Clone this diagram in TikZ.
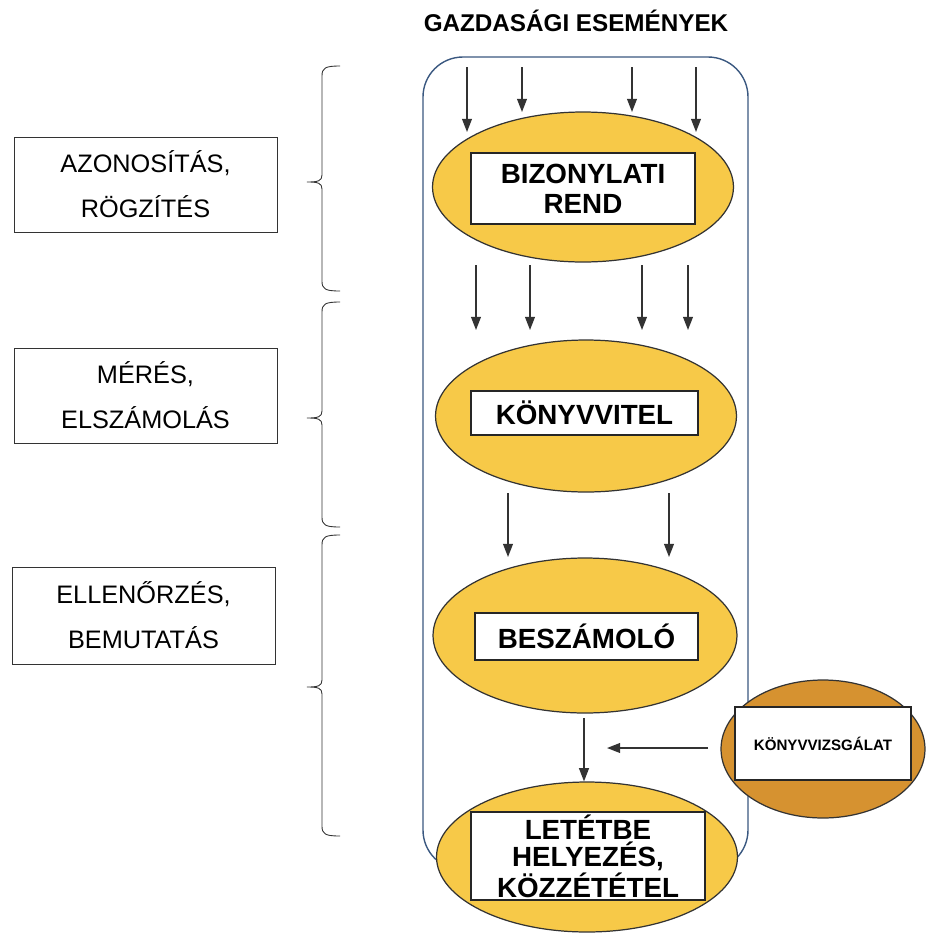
\documentclass[tikz,border=0pt]{standalone}
\usepackage{fontspec}
\setmainfont{Liberation Sans}
\usetikzlibrary{positioning, arrows.meta, shapes.geometric}
\definecolor{ellyellow}{RGB}{247,201,72}
\definecolor{ellbrown}{RGB}{214,146,48}
\definecolor{framecol}{RGB}{58,88,128}
\tikzstyle{ell}=[draw=black!80, fill=ellyellow, ellipse, inner sep=0pt, line width=0.7pt]
\tikzstyle{lab}=[draw=black!85, fill=white, inner sep=0pt, line width=0.6pt, align=center, font=\bfseries\fontsize{15.8}{17}\selectfont]
\tikzstyle{side}=[draw=black!80, inner sep=0pt, line width=0.5pt, align=center, minimum width=5.26cm, minimum height=1.9cm, font=\fontsize{14.4}{25.5}\selectfont]
\tikzstyle{brc}=[line width=0.5pt, black!80]

\begin{document}
\begin{tikzpicture}[x=0.02cm, y=-0.02cm, > = {Triangle[length=7.5pt,width=5.6pt]}, every path/.style={line width=0.85pt}]
  \useasboundingbox (0,0) rectangle (926,934);
  \node (title) at (576,21) {\bfseries\fontsize{13.8}{15}\selectfont GAZDASÁGI ESEMÉNYEK};
  % the frame round the process
  \draw[framecol, line width=0.8pt, rounded corners=0.8cm] (423,57) rectangle (748,870);

  \node [ell, minimum width=6.02cm, minimum height=3cm] (bizell) at (583,187) {};
  \node [ell, minimum width=6.02cm, minimum height=3.04cm] (konell) at (586,416) {};
  \node [ell, minimum width=6.08cm, minimum height=3.1cm] (beszell) at (585,635.5) {};
  \node [ell, minimum width=6.02cm, minimum height=3cm] (letell) at (587,857) {};
  \node [ell, fill=ellbrown, minimum width=4.08cm, minimum height=2.76cm] (vizsell) at (823,749) {};

  \node [lab, minimum width=4.48cm, minimum height=1.42cm] (biz) at (583,188.5) {BIZONYLATI\\REND};
  \node [lab, minimum width=4.54cm, minimum height=0.88cm] (kon) at (584.5,413) {KÖNYVVITEL};
  \node [lab, minimum width=4.46cm, minimum height=0.94cm] (besz) at (586.5,636.5) {BESZÁMOLÓ};
  \node [lab, minimum width=4.68cm, minimum height=1.76cm, font=\bfseries\fontsize{15.8}{15.5}\selectfont] (let) at (588,856) {LETÉTBE\\HELYEZÉS,\\KÖZZÉTÉTEL};
  \node [lab, minimum width=3.52cm, minimum height=1.46cm, font=\bfseries\fontsize{8.6}{10}\selectfont] (vizs) at (823,743.5) {KÖNYVVIZSGÁLAT};

  % side labels and braces
  \node [side] (azon) at (145.5,184.5) {AZONOSÍTÁS,\\RÖGZÍTÉS};
  \node [side] (meres) at (145.5,395.5) {MÉRÉS,\\ELSZÁMOLÁS};
  \node [side, minimum height=1.94cm] (ellen) at (143.5,615.5) {ELLENŐRZÉS,\\BEMUTATÁS};
  \foreach \t/\m/\b [count=\i] in {66/182/291, 302/418/527, 535/687/836} {
    \coordinate (tip\i) at (307,\m);
    \draw[brc] (340,\t) .. controls (325,\t) and (322,\t+2) .. (322,\t+10)
      -- (322,\m-7) .. controls (322,\m-1) and (318,\m) .. (tip\i)
      .. controls (318,\m) and (322,\m+1) .. (322,\m+7)
      -- (322,\b-10) .. controls (322,\b-2) and (325,\b) .. (340,\b);
  }

  % arrows
  \foreach \x/\y [count=\i] in {467/132, 522/112, 632/112, 696/132} {
    \coordinate (in\i) at (\x,67); \coordinate (inend\i) at (\x,\y);
    \draw[->, black!80] (in\i) -- (inend\i);
  }
  \foreach \x [count=\i] in {476, 530, 642, 688} {
    \coordinate (ka\i) at (\x,265); \coordinate (kb\i) at (\x,330);
    \draw[->, black!80] (ka\i) -- (kb\i);
  }
  \foreach \x [count=\i] in {508, 669} {
    \coordinate (ba\i) at (\x,493); \coordinate (bb\i) at (\x,557);
    \draw[->, black!80] (ba\i) -- (bb\i);
  }
  \coordinate (down) at (584,718);
  \draw[->, black!80] (down) -- (down |- letell.north);
  \coordinate (vstart) at (708,748); \coordinate (vend) at (607,748);
  \draw[->, black!80] (vstart) -- (vend);
\end{tikzpicture}
\end{document}
